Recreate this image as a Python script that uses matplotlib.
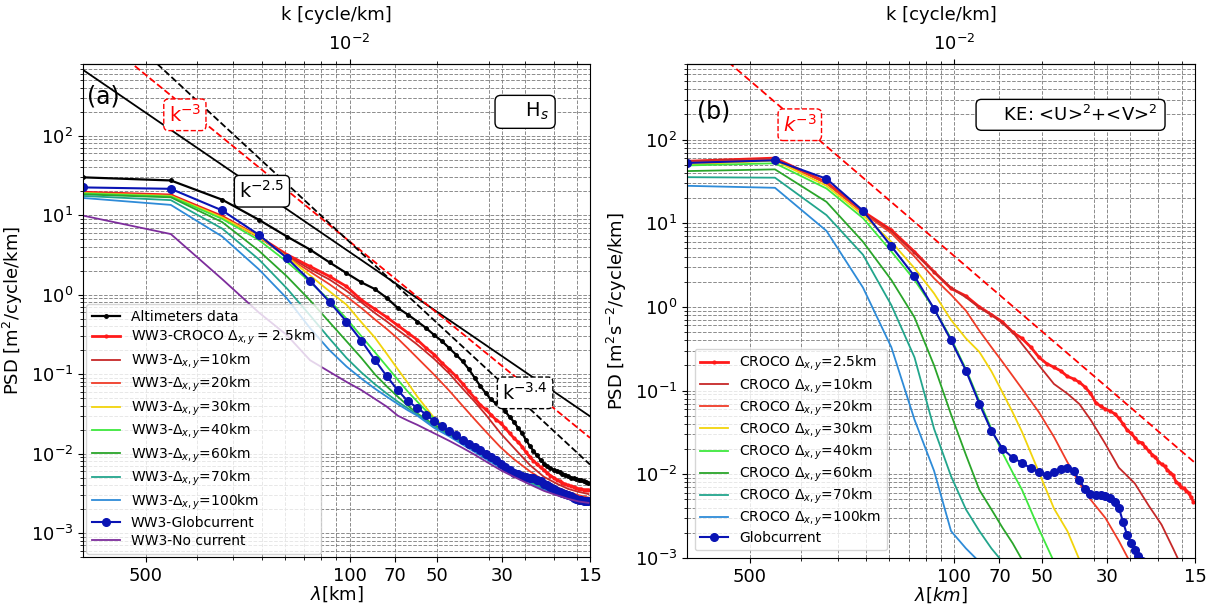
import numpy as np
import matplotlib
matplotlib.use("Agg")
import matplotlib.pyplot as plt
from matplotlib.ticker import FixedLocator, FixedFormatter, NullFormatter, LogLocator, LogFormatterSciNotation

# ---------------- data ----------------
L_DOMAIN = 820.0                      # km, spectral grid k_n = n / L
n_full = np.arange(1, 55)
n_sub = [1, 2, 3, 4, 5, 6, 7, 8, 9, 10, 11, 12, 13, 14, 16, 18, 20, 22, 24, 27, 30, 34, 38, 42, 46, 50, 54]
lam_ticks = [500, 100, 70, 50, 30, 15]
k_top_ticks = [1e-2]
psd_ticks = [1e-3, 1e-2, 1e-1, 1e0, 1e1, 1e2]
ref_k = [1 / 820.0, 1 / 15.0]

# panel (a) : Hs spectra
a_alti = [30, 27.4, 15.7, 8.8, 5.4, 3.7, 2.55, 1.87, 1.43, 1.18, 0.91, 0.68, 0.56, 0.46, 0.38, 0.31, 0.26,
          0.213, 0.176, 0.145, 0.116, 0.090, 0.071, 0.058, 0.048, 0.043, 0.040, 0.034, 0.029, 0.025, 0.021,
          0.018, 0.0148, 0.0125, 0.0108, 0.0095, 0.0083, 0.0075, 0.0069, 0.0065, 0.0063, 0.0060, 0.0058,
          0.0056, 0.0054, 0.0052, 0.0050, 0.0049, 0.0048, 0.0047, 0.0046, 0.0045, 0.0044, 0.0043]
a_croco25 = [19.5, 18.0, 9.7, 5.4, 3.2, 2.27, 1.70, 1.27, 0.86, 0.66, 0.52, 0.41, 0.33, 0.27, 0.213, 0.176,
             0.138, 0.114, 0.094, 0.076, 0.061, 0.050, 0.041, 0.036, 0.031, 0.0268, 0.0243, 0.021, 0.018,
             0.0157, 0.0140, 0.0122, 0.0104, 0.0091, 0.0081, 0.0074, 0.0067, 0.0062, 0.0057, 0.0053, 0.0050,
             0.0047, 0.0045, 0.0043, 0.0041, 0.0040, 0.0039, 0.0038, 0.0037, 0.0036, 0.0036, 0.0035, 0.0035, 0.0035]
a_glob = [22.4, 21.5, 11.5, 5.7, 2.9, 1.5, 0.81, 0.46, 0.264, 0.152, 0.094, 0.0625, 0.0455, 0.0376, 0.031,
          0.0255, 0.022, 0.019, 0.017, 0.015, 0.0134, 0.0121, 0.0110, 0.0100, 0.0091, 0.0082, 0.0075, 0.0068,
          0.0062, 0.0057, 0.0055, 0.0053, 0.0051, 0.0050, 0.0049, 0.0047, 0.0045, 0.0042, 0.0040, 0.0038,
          0.0036, 0.0034, 0.0033, 0.0032, 0.0031, 0.0030, 0.0029, 0.0028, 0.0027, 0.0026, 0.0026, 0.0025,
          0.0025, 0.0025]
a_10 = [19.3, 17.9, 9.6, 5.4, 3.1, 2.1, 1.55, 1.12, 0.80, 0.59, 0.46, 0.36, 0.29, 0.235, 0.155, 0.102, 0.066,
        0.045, 0.031, 0.018, 0.0118, 0.0072, 0.0051, 0.0042, 0.0036, 0.0033, 0.0031]
a_20 = [19.2, 17.7, 9.5, 5.3, 3.0, 1.95, 1.35, 0.95, 0.68, 0.49, 0.37, 0.28, 0.21, 0.16, 0.098, 0.062, 0.040,
        0.027, 0.019, 0.012, 0.0085, 0.0060, 0.0046, 0.0038, 0.0033, 0.0030, 0.0028]
a_30 = [19.0, 17.5, 9.4, 5.4, 3.0, 1.75, 1.1, 0.75, 0.45, 0.29, 0.18, 0.115, 0.077, 0.052, 0.028, 0.019,
        0.0148, 0.0118, 0.0095, 0.0072, 0.0057, 0.0044, 0.0036, 0.0031, 0.0028, 0.0026, 0.0025]
a_40 = [18.8, 17.2, 9.0, 4.9, 2.6, 1.45, 0.85, 0.5, 0.3, 0.19, 0.125, 0.085, 0.06, 0.045, 0.027, 0.019,
        0.0145, 0.0115, 0.0092, 0.0070, 0.0056, 0.0044, 0.0037, 0.0032, 0.0028, 0.0026, 0.0025]
a_60 = [18.3, 16.8, 8.2, 3.6, 1.7, 0.85, 0.45, 0.26, 0.16, 0.10, 0.07, 0.052, 0.04, 0.032, 0.023, 0.0175,
        0.0138, 0.011, 0.0089, 0.0068, 0.0055, 0.0043, 0.0036, 0.0031, 0.0028, 0.0026, 0.0025]
a_70 = [17.5, 15.5, 6.8, 2.8, 1.2, 0.55, 0.28, 0.16, 0.105, 0.075, 0.057, 0.045, 0.037, 0.031, 0.022, 0.017,
        0.0135, 0.0108, 0.0088, 0.0067, 0.0054, 0.0043, 0.0036, 0.0031, 0.0028, 0.0026, 0.0025]
a_100 = [16.5, 13.5, 5.4, 2.1, 0.9, 0.38, 0.2, 0.125, 0.088, 0.066, 0.052, 0.042, 0.035, 0.030, 0.021, 0.0165,
         0.013, 0.0105, 0.0086, 0.0066, 0.0053, 0.0042, 0.0035, 0.0031, 0.0028, 0.0026, 0.0025]
a_nocur = [9.9, 5.8, 1.57, 0.60, 0.31, 0.15, 0.107, 0.080, 0.063, 0.049, 0.039, 0.030, 0.026, 0.023, 0.018,
           0.0145, 0.0118, 0.0097, 0.0080, 0.0062, 0.0051, 0.0041, 0.0034, 0.0030, 0.0027, 0.0025, 0.0024]
a_ref25 = [676, 0.0295]     # k^-2.5
a_ref3 = [2581, 0.0158]     # k^-3
a_ref34 = [5890, 0.00728]   # k^-3.4

# panel (b) : KE spectra
b_croco25 = [55, 60, 30.7, 13.8, 8.3, 4.56, 2.62, 1.66, 1.35, 1.0, 0.81, 0.66, 0.50, 0.42, 0.33, 0.25, 0.21,
             0.19, 0.172, 0.148, 0.138, 0.126, 0.11, 0.093, 0.072, 0.065, 0.060, 0.057, 0.053, 0.047, 0.040,
             0.034, 0.031, 0.0275, 0.0245, 0.0238, 0.021, 0.019, 0.0172, 0.016, 0.0142, 0.0132, 0.0125, 0.0112,
             0.0105, 0.0098, 0.0082, 0.0077, 0.0070, 0.0068, 0.0064, 0.0060, 0.0053, 0.0047]
b_glob = [52.5, 56.5, 34, 14.1, 5.3, 2.33, 0.95, 0.40, 0.173, 0.070, 0.033, 0.0202, 0.0158, 0.0137, 0.0118,
          0.0107, 0.0098, 0.0106, 0.0116, 0.0120, 0.0109, 0.0085, 0.0066, 0.0058, 0.0057, 0.0056, 0.0055,
          0.0052, 0.0047, 0.0040, 0.0027, 0.0019, 0.0015, 0.00126, 0.00105, 0.00092, 0.00082]
b_10 = [55, 59, 30, 13.5, 8.0, 4.4, 2.6, 1.7, 1.3, 0.98, 0.8, 0.64, 0.5, 0.36, 0.20, 0.12, 0.092, 0.069, 0.045,
        0.023, 0.012, 0.0078, 0.0042, 0.0025, 0.0013, 0.0007, 0.0004]
b_20 = [53, 58, 30, 13.3, 7.6, 4.0, 2.2, 1.4, 0.9, 0.52, 0.33, 0.22, 0.15, 0.105, 0.055, 0.028, 0.014, 0.0078,
        0.0050, 0.0030, 0.0016, 0.0007]
b_30 = [50, 56, 28, 12.5, 6.0, 2.9, 1.45, 0.7, 0.42, 0.29, 0.17, 0.095, 0.055, 0.032, 0.0105, 0.0039, 0.0021,
        0.00095]
b_40 = [49, 52, 26, 11.5, 4.6, 2.1, 0.95, 0.42, 0.18, 0.075, 0.035, 0.018, 0.0105, 0.0065, 0.0022, 0.0009]
b_60 = [42, 44, 18, 6.0, 2.1, 0.75, 0.2, 0.052, 0.017, 0.0065, 0.0038, 0.0023, 0.0015, 0.00095]
b_70 = [35.5, 35, 12.5, 4.2, 1.05, 0.25, 0.035, 0.0095, 0.0038, 0.0021, 0.0013, 0.0009]
b_100 = [28, 26.5, 8.1, 1.7, 0.33, 0.045, 0.011, 0.0021, 0.0013, 0.0009]
b_ref3 = [2239, 0.0137]     # k^-3

# ---------------- style ----------------
C = dict(alti='black', c25='#ff1a1a', r10='#c62828', r20='#f03c28', r30='#f2d40c', r40='#3ee83e',
         r60='#2aa52a', r70='#22a58c', r100='#2e8bd8', glob='#0a14b4', nocur='#7d2d9c')

fig = plt.figure(figsize=(12.11, 6.04), dpi=100)
axa = fig.add_axes([0.0685, 0.0778, 0.4187, 0.8162])
axb = fig.add_axes([0.5673, 0.0762, 0.4195, 0.8179])


def kk(n):
    return np.asarray(n, dtype=float) / L_DOMAIN


def setup(ax, ylim, ylabel, xlabel):
    ax.set_xscale('log')
    ax.set_yscale('log')
    ax.set_xlim(1 / L_DOMAIN, 1 / 15.0)
    ax.set_ylim(*ylim)
    ax.xaxis.set_major_locator(FixedLocator([1.0 / l for l in lam_ticks]))
    ax.xaxis.set_major_formatter(FixedFormatter([str(l) for l in lam_ticks]))
    ax.xaxis.set_minor_locator(LogLocator(base=10, subs=np.arange(2, 10)))
    ax.xaxis.set_minor_formatter(NullFormatter())
    ax.yaxis.set_major_locator(FixedLocator(psd_ticks))
    ax.yaxis.set_major_formatter(LogFormatterSciNotation())
    ax.yaxis.set_minor_locator(LogLocator(base=10, subs=np.arange(2, 10), numticks=15))
    ax.yaxis.set_minor_formatter(NullFormatter())
    ax.tick_params(labelsize=13)
    ax.grid(True, which='both', ls='--', color='gray', lw=0.7, alpha=0.9)
    ax.set_ylabel(ylabel, fontsize=13)
    ax.set_xlabel(xlabel, fontsize=13, labelpad=0)
    sec = ax.secondary_xaxis('top')
    sec.xaxis.set_major_locator(FixedLocator(k_top_ticks))
    sec.xaxis.set_major_formatter(LogFormatterSciNotation())
    sec.xaxis.set_minor_locator(LogLocator(base=10, subs=np.arange(2, 10)))
    sec.xaxis.set_minor_formatter(NullFormatter())
    sec.tick_params(labelsize=13)
    sec.set_xlabel('k [cycle/km]', fontsize=13, labelpad=10)


# ---------------- panel (a) ----------------
setup(axa, (5e-4, 800), 'PSD [m$^2$/cycle/km]', r'$\lambda$[km]')
axa.plot(ref_k, a_ref25, color='black', lw=1.3)
axa.plot(ref_k, a_ref3, color='red', lw=1.3, ls='--')
axa.plot(ref_k, a_ref34, color='black', lw=1.3, ls='--')

axa.plot(kk(n_full), a_alti, color=C['alti'], lw=1.6, marker='.', ms=5, label='Altimeters data')
axa.plot(kk(n_full), a_croco25, color=C['c25'], lw=2.0, marker='.', ms=4,
         label=r'WW3-CROCO $\Delta_{x,y} = 2.5$km')
axa.plot(kk(n_sub), a_10, color=C['r10'], lw=1.3, label=r'WW3-$\Delta_{x,y}$=10km')
axa.plot(kk(n_sub), a_20, color=C['r20'], lw=1.3, label=r'WW3-$\Delta_{x,y}$=20km')
axa.plot(kk(n_sub), a_30, color=C['r30'], lw=1.3, label=r'WW3-$\Delta_{x,y}$=30km')
axa.plot(kk(n_sub), a_40, color=C['r40'], lw=1.3, label=r'WW3-$\Delta_{x,y}$=40km')
axa.plot(kk(n_sub), a_60, color=C['r60'], lw=1.3, label=r'WW3-$\Delta_{x,y}$=60km')
axa.plot(kk(n_sub), a_70, color=C['r70'], lw=1.3, label=r'WW3-$\Delta_{x,y}$=70km')
axa.plot(kk(n_sub), a_100, color=C['r100'], lw=1.3, label=r'WW3-$\Delta_{x,y}$=100km')
axa.plot(kk(n_full), a_glob, color=C['glob'], lw=1.5, marker='o', ms=5.5, label='WW3-Globcurrent')
axa.plot(kk(n_sub), a_nocur, color=C['nocur'], lw=1.3, label='WW3-No current')

axa.legend(loc='lower left', fontsize=10, labelspacing=0.3, borderaxespad=0.25, framealpha=0.8)

axa.text(0.008, 0.935, '(a)', transform=axa.transAxes, fontsize=17, ha='left', va='center')
axa.text(0.201, 0.897, 'k$^{-3}$', transform=axa.transAxes, fontsize=14, color='red', ha='center', va='center',
         bbox=dict(boxstyle='round,pad=0.25', fc='white', ec='red', ls='--', lw=1))
axa.text(0.353, 0.742, 'k$^{-2.5}$', transform=axa.transAxes, fontsize=14, ha='center', va='center',
         bbox=dict(boxstyle='round,pad=0.25', fc='white', ec='black', lw=1))
axa.text(0.872, 0.333, 'k$^{-3.4}$', transform=axa.transAxes, fontsize=14, ha='center', va='center',
         bbox=dict(boxstyle='round,pad=0.25', fc='white', ec='black', ls='--', lw=1))
axa.text(0.872, 0.903, '    H$_s$', transform=axa.transAxes, fontsize=14, ha='center', va='center',
         bbox=dict(boxstyle='round,pad=0.3', fc='white', ec='black', lw=1))

# ---------------- panel (b) ----------------
setup(axb, (1e-3, 800), 'PSD [m$^2$s$^{-2}$/cycle/km]', r'$\lambda[km]$')
axb.plot(ref_k, b_ref3, color='red', lw=1.3, ls=(0, (4, 2)))

axb.plot(kk(n_full), b_croco25, color=C['c25'], lw=2.0, marker='.', ms=4, label=r'CROCO $\Delta_{x,y}$=2.5km')
axb.plot(kk(n_sub[:len(b_10)]), b_10, color=C['r10'], lw=1.3, label=r'CROCO $\Delta_{x,y}$=10km')
axb.plot(kk(n_sub[:len(b_20)]), b_20, color=C['r20'], lw=1.3, label=r'CROCO $\Delta_{x,y}$=20km')
axb.plot(kk(n_sub[:len(b_30)]), b_30, color=C['r30'], lw=1.3, label=r'CROCO $\Delta_{x,y}$=30km')
axb.plot(kk(n_sub[:len(b_40)]), b_40, color=C['r40'], lw=1.3, label=r'CROCO $\Delta_{x,y}$=40km')
axb.plot(kk(n_sub[:len(b_60)]), b_60, color=C['r60'], lw=1.3, label=r'CROCO $\Delta_{x,y}$=60km')
axb.plot(kk(n_sub[:len(b_70)]), b_70, color=C['r70'], lw=1.3, label=r'CROCO $\Delta_{x,y}$=70km')
axb.plot(kk(n_sub[:len(b_100)]), b_100, color=C['r100'], lw=1.3, label=r'CROCO $\Delta_{x,y}$=100km')
axb.plot(kk(n_full[:len(b_glob)]), b_glob, color=C['glob'], lw=1.5, marker='o', ms=5.5, label='Globcurrent')

axb.legend(loc='lower left', fontsize=10, labelspacing=0.2, borderaxespad=0.55, framealpha=0.8)

axb.text(0.02, 0.903, '(b)', transform=axb.transAxes, fontsize=17, ha='left', va='center')
axb.text(0.222, 0.877, '$k^{-3}$', transform=axb.transAxes, fontsize=14, color='red', ha='center', va='center',
         bbox=dict(boxstyle='round,pad=0.25', fc='white', ec='red', ls='--', lw=1))
axb.text(0.755, 0.897, '    KE: <U>$^2$+<V>$^2$ ', transform=axb.transAxes, fontsize=13, ha='center',
         va='center', bbox=dict(boxstyle='round,pad=0.3', fc='white', ec='black', lw=1))

fig.savefig('out.png', dpi=100)
